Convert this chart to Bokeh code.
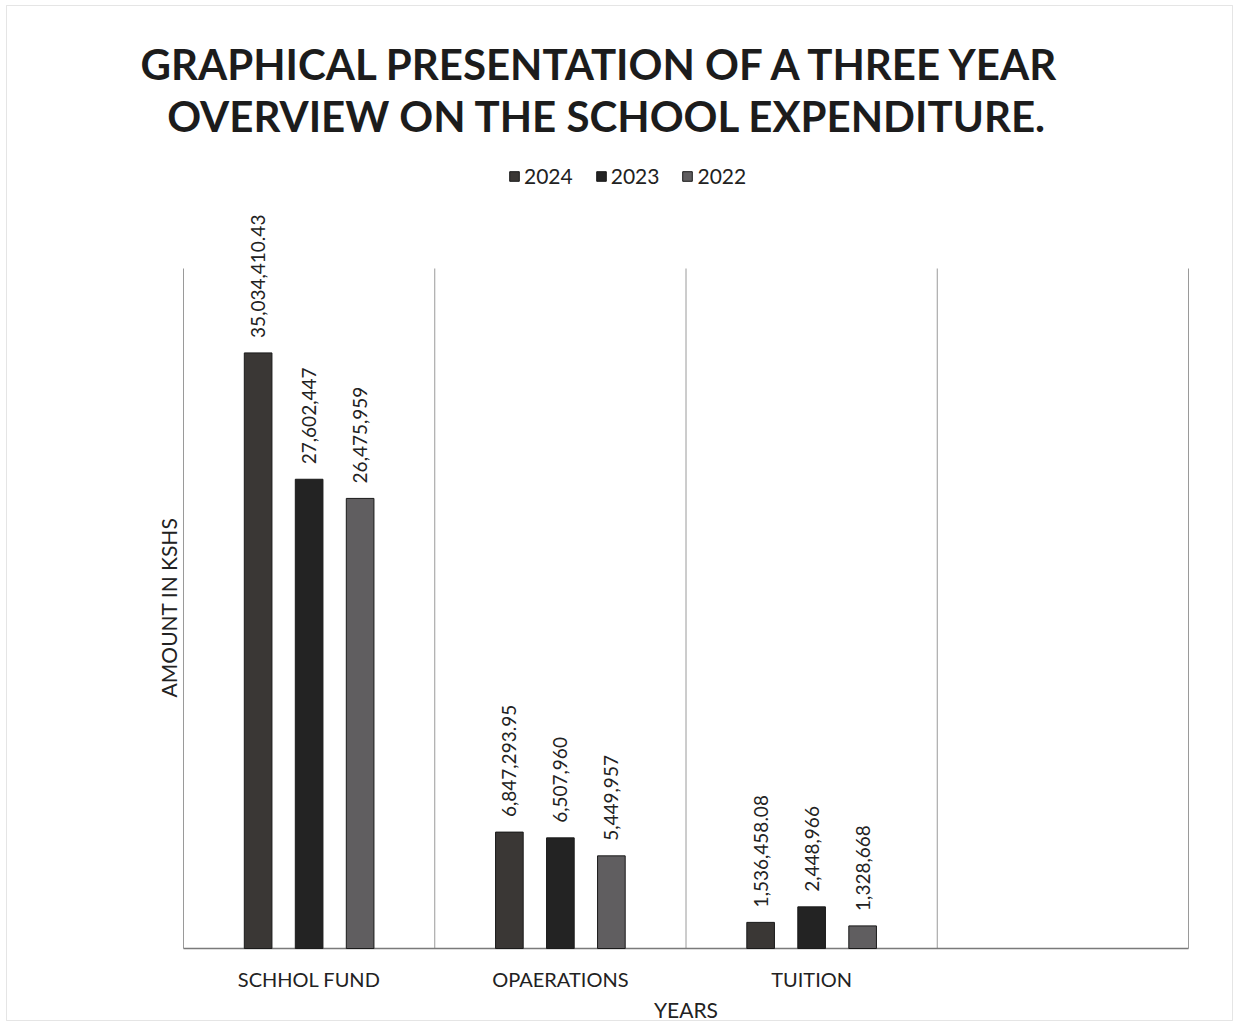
from bokeh.plotting import figure
from bokeh.models import Range1d, Legend, LegendItem, ColumnDataSource, Label, BoxAnnotation
from bokeh.embed import file_html
from bokeh.resources import INLINE
from bokeh.core.properties import value

# ---- data ----
categories = ["SCHHOL FUND", "OPAERATIONS", "TUITION", ""]
years = ["2024", "2023", "2022"]
v2024 = [35034410.43, 6847293.95, 1536458.08]
v2023 = [27602447, 6507960, 2448966]
v2022 = [26475959, 5449957, 1328668]
axis_max = 40000000

series = [v2024, v2023, v2022]
colors = ["#3a3735", "#232323", "#605e60"]
FONT = "Lato"
TXT = "#222222"

def fmt(v):
    return f"{v:,.2f}" if v % 1 else f"{v:,.0f}"

# ---- layout (pixels) ----
W, H = 1238, 1026
PL, PR, PB = 183, 50, 78          # plot area margins inside the canvas
n = len(categories)
ux = (W - PL - PR) / n            # px per category
uy = 17.0 / 1e6                   # px per shilling
x_range = Range1d(-PL / ux, n + PR / ux)
y_range = Range1d(-PB / uy, (H - PB) / uy)

p = figure(width=W, height=H, x_range=x_range, y_range=y_range,
           output_backend="svg", toolbar_location=None, title=None,
           min_border_left=0, min_border_right=0, min_border_bottom=0, min_border_top=0)
p.background_fill_color = "white"
p.border_fill_color = "white"
p.outline_line_color = None
p.xgrid.visible = False
p.ygrid.visible = False
p.xaxis.visible = False
p.yaxis.visible = False

# outer chart border
p.add_layout(BoxAnnotation(left=6, right=1232, top=H - 5, bottom=H - 1020,
                           left_units="screen", right_units="screen",
                           top_units="screen", bottom_units="screen",
                           fill_alpha=0, line_color="#a8a8a8", line_width=1))

# category separators and baseline
bounds = list(range(n + 1))
p.segment(x0=bounds, y0=[0] * len(bounds), x1=bounds, y1=[axis_max] * len(bounds),
          line_color="#9a9a9a", line_width=1)
p.segment(x0=[0], y0=[0], x1=[n], y1=[0], line_color="#7a7a7a", line_width=1.5)

offsets = [-0.203, 0.0, 0.203]
bar_w = 0.11
renderers = []
for vals, off, col, yr in zip(series, offsets, colors, years):
    xs = [i + 0.5 + off for i in range(len(vals))]
    src = ColumnDataSource(dict(x=xs, top=vals, lab=[fmt(v) for v in vals]))
    r = p.vbar(x="x", top="top", width=bar_w, source=src, fill_color=col,
               line_color="#1a1a1a", line_width=1)
    renderers.append((yr, r))
    p.text(x="x", y="top", text="lab", source=src, angle=1.5708, text_align="left",
           text_baseline="middle", y_offset=-15, text_font=value(FONT),
           text_font_size="19px", text_color=TXT)

# category labels
csrc = ColumnDataSource(dict(x=[i + 0.5 for i in range(n)], y=[0] * n, t=categories))
p.text(x="x", y="y", text="t", source=csrc, text_align="center", text_baseline="middle",
       y_offset=30, text_font=value(FONT), text_font_size="20px", text_color=TXT)

# axis titles
p.add_layout(Label(x=PL + (W - PL - PR) / 2, y=H - 1009, x_units="screen", y_units="screen",
                   text="YEARS", text_align="center", text_baseline="middle",
                   text_font=FONT, text_font_size="21px", text_color=TXT))
p.add_layout(Label(x=168, y=H - 607, x_units="screen", y_units="screen",
                   text="AMOUNT IN KSHS", angle=1.5708, text_align="center",
                   text_baseline="middle", text_font=FONT, text_font_size="21px",
                   text_color=TXT))

# chart title
p.add_layout(Label(x=607, y=H - 63, x_units="screen", y_units="screen",
                   text="GRAPHICAL PRESENTATION OF  A THREE YEAR", text_align="center",
                   text_baseline="middle", text_font=FONT, text_font_size="42px",
                   text_font_style="bold", text_color="#1c1c1c"))
p.add_layout(Label(x=607, y=H - 115, x_units="screen", y_units="screen",
                   text="OVERVIEW ON THE SCHOOL EXPENDITURE.", text_align="center",
                   text_baseline="middle", text_font=FONT, text_font_size="42px",
                   text_font_style="bold", text_color="#1c1c1c"))

legend = Legend(items=[LegendItem(label=yr, renderers=[r]) for yr, r in renderers],
                orientation="horizontal", location=(508, H - 188), border_line_color=None,
                background_fill_alpha=0, label_text_font=FONT, label_text_font_size="21px",
                label_text_color=TXT, glyph_width=12, glyph_height=12, spacing=22,
                margin=0, padding=4, label_standoff=4)
p.add_layout(legend)

open("out.html", "w").write(file_html(p, INLINE))
